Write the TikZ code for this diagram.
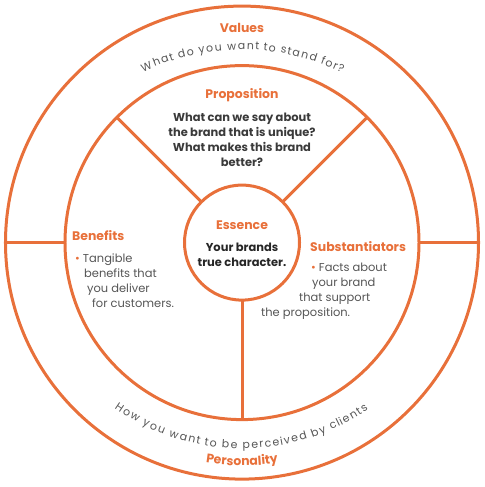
\documentclass[tikz,border=0pt]{standalone}
\usepackage{fontspec}
\setmainfont{Poppins}
\usetikzlibrary{positioning,decorations.text}
\definecolor{brand}{RGB}{232,112,58}
\definecolor{ink}{RGB}{58,58,58}
\definecolor{soft}{RGB}{85,85,85}
\newcommand\arcbold{\fontsize{12.5}{14}\selectfont\bfseries\color{brand}}

\begin{document}
\begin{tikzpicture}[
  x=1bp, y=1bp,
  ring/.style={circle, draw=brand, line width=3bp, inner sep=0pt, outer sep=0pt},
  spoke/.style={draw=brand, line width=3bp},
  head/.style={text=brand, font=\fontsize{12.5}{15}\selectfont\bfseries, anchor=base, inner sep=0pt},
  quest/.style={text=ink, font=\fontsize{11.5}{15}\selectfont\bfseries, align=center, inner sep=0pt},
  body/.style={text=soft, font=\fontsize{11.5}{15}\selectfont, anchor=base west, inner sep=0pt},
  arctext/.style={decorate, decoration={text effects along path, text={#1},
    text effects/.cd, text along path, fit text to path,
    characters={text=soft, font=\fontsize{11}{12}\selectfont}}}
]
\useasboundingbox (-242,-244.4) rectangle (243,242.6);

\node[ring, minimum size=473bp] (values) at (0,0) {};
\node[ring, minimum size=354bp] (proposition) at (0,0) {};
\node[ring, minimum size=115bp] (essence) at (0,0) {};

\foreach \a in {45,135,270} {
  \draw[spoke] (essence.\a) -- (proposition.\a);
}
\foreach \a in {0,180} {
  \draw[spoke] (proposition.\a) -- (values.\a);
}

\node[head] (valuesHd) at (0,209.6) {Values};
\node[head] (propHd) at (0,143.6) {Proposition};
\node[quest] (propTx) at (0,103.1) {What can we say about\\the brand that is unique?\\What makes this brand\\better?};

\node[head] (essHd) at (0,12.6) {Essence};
\node[quest, text=black!85] (essTx) at (0,-11.9) {Your brands\\true character.};

\node[head, anchor=base west] (benHd) at (-170,1.9) {Benefits};
\node[body] (ben1) at (-167,-19.9) {\textcolor{brand}{\textbullet} Tangible};
\node[body] (ben2) at (-158,-34.9) {benefits that};
\node[body] (ben3) at (-155,-49.9) {you deliver};
\node[body] (ben4) at (-150,-64.9) {for customers.};

\node[head, anchor=base west] (subHd) at (68,-9.4) {Substantiators};
\node[body] (sub1) at (69,-29.4) {\textcolor{brand}{\textbullet} Facts about};
\node[body] (sub2) at (70,-44.4) {your brand};
\node[body] (sub3) at (57,-59.4) {that support};
\node[body] (sub4) at (19,-74.4) {the proposition.};

% curved captions
\path[arctext={What do you want to stand for?}]
  (-98.9,170.5) arc[start angle=115.6, end angle=64.1, radius=229];
\path[arctext={How you want to be perceived by clients}]
  (-127.6,-165.5) arc[start angle=234.9, end angle=304.6, radius=222];
\path[decorate, decoration={text along path, text align=center,
  text={|\arcbold|Personality}}]
  (-119.6,-191.0) arc[start angle=240, end angle=300, radius=239.2];

\end{tikzpicture}
\end{document}
